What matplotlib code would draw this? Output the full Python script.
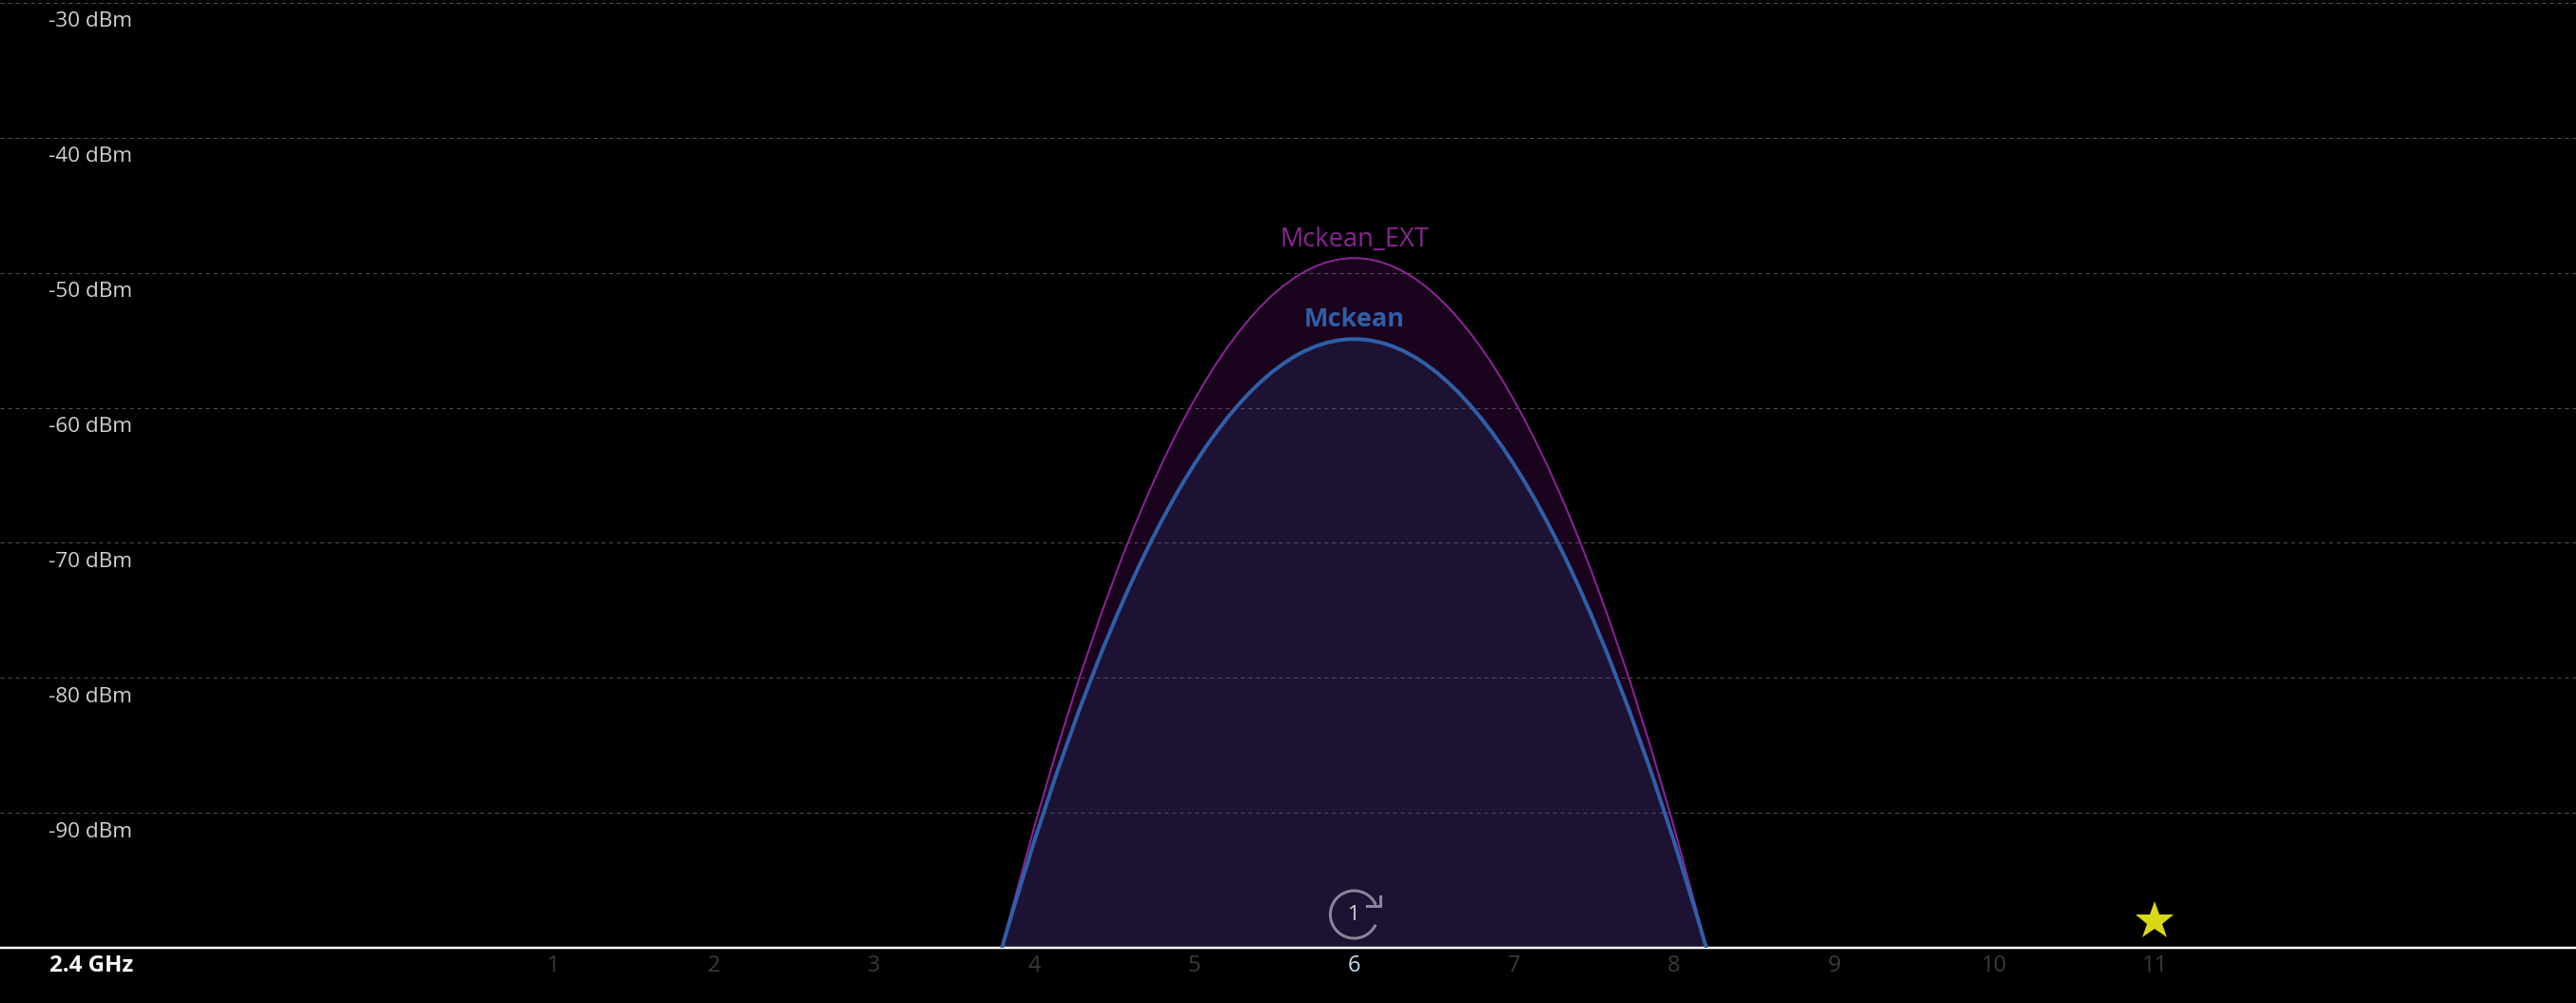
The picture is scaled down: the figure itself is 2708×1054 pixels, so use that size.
"""
python plot.py  ->  out.png
Wi-Fi analyzer, 2.4 GHz channel view.
"""
import matplotlib
matplotlib.use("Agg")
import matplotlib.pyplot as plt
from matplotlib.patches import Arc, PathPatch
from matplotlib.path import Path
from matplotlib.transforms import Affine2D

# ---- data
channels = [1, 2, 3, 4, 5, 6, 7, 8, 9, 10, 11]
levels = [-30, -40, -50, -60, -70, -80, -90]
floor_dbm = -100

network_names = ["Mckean_EXT", "Mckean"]
network_edge_low = [3.8, 3.8]
network_centre = [6, 6]
network_edge_high = [8.2, 8.2]
network_peak = [-48.9, -54.9]

active_channel = 6
network_count = 1
best_channel = 11
best_marker_dbm = -98.0

# ---- style
W, H, DPI = 2708, 1054, 100
BG = "#000000"
PX = 72 / DPI  # one pixel, in points
FONT = "Open Sans"
GRID_COL = "#555555"
NET_COLS = ["#8a2596", "#2f5fa8"]
NET_FILL = [("#85108f", 0.2), ("#2f5fa8", 0.17)]
NET_LW = [2 * PX, 4 * PX]
ICON_COL = "#8c8498"

plt.rcParams["font.family"] = [FONT, "DejaVu Sans"]

fig = plt.figure(figsize=(W / DPI, H / DPI), dpi=DPI, facecolor=BG)
base_px = 996
ax = fig.add_axes([0, (H - base_px) / H, 1, base_px / H], facecolor=BG)
ax.set_xlim(6 - 1423.5 / 168.3, 6 + (W - 1423.5) / 168.3)
ax.set_ylim(floor_dbm, -30 + 3 / 14.2)

for name, spine in ax.spines.items():
    spine.set_visible(name == "bottom")
ax.spines["bottom"].set_color("white")
ax.spines["bottom"].set_linewidth(2.5 * PX)

# ---- grid and axis labels
ax.set_yticks(levels)
ax.tick_params(axis="y", length=0, labelleft=False)
ax.grid(axis="y", color=GRID_COL, linewidth=1 * PX, linestyle=(0, (4, 4)))
ax.set_axisbelow(True)
for lv in levels:
    ax.annotate(f"{lv} dBm", xy=(0, lv), xycoords=ax.get_yaxis_transform(),
                xytext=(51, -20), textcoords="offset pixels",
                color="#d0d0d0", fontsize=16.2, ha="left", va="center")

ax.set_xticks(channels)
ax.set_xticklabels([str(c) for c in channels], fontsize=17)
ax.tick_params(axis="x", length=0, pad=5)
for c, lab in zip(channels, ax.get_xticklabels()):
    lab.set_color("#bfe0f0" if c == active_channel else "#3a3a3a")

ax.annotate("2.4 GHz", xy=(0, floor_dbm), xycoords=ax.get_yaxis_transform(),
            xytext=(52, -19), textcoords="offset pixels",
            color="white", fontsize=17.4, fontweight="bold", ha="left", va="center")


# ---- networks: one quadratic hump per network, read from edges and peak
def hump(low, centre, high, peak):
    ctrl = 2 * peak - floor_dbm  # curve passes through peak halfway along
    return [(low, floor_dbm), (centre, ctrl), (high, floor_dbm)]


for i, name in enumerate(network_names):
    p0, p1, p2 = hump(network_edge_low[i], network_centre[i],
                      network_edge_high[i], network_peak[i])
    fill_col, fill_alpha = NET_FILL[i]
    ax.add_patch(PathPatch(Path([p0, p1, p2, p0],
                                [Path.MOVETO, Path.CURVE3, Path.CURVE3, Path.CLOSEPOLY]),
                           facecolor=fill_col, alpha=fill_alpha, edgecolor="none", zorder=2))
    ax.add_patch(PathPatch(Path([p0, p1, p2], [Path.MOVETO, Path.CURVE3, Path.CURVE3]),
                           facecolor="none", edgecolor=NET_COLS[i], linewidth=NET_LW[i], zorder=3))

ax.annotate(network_names[0], xy=(network_centre[0], network_peak[0]),
            xytext=(0, 19), textcoords="offset pixels", color=NET_COLS[0],
            fontsize=19.6, ha="center", va="center", zorder=4)
ax.annotate(network_names[1], xy=(network_centre[1], network_peak[1]),
            xytext=(0, 20), textcoords="offset pixels", color=NET_COLS[1],
            fontsize=19.5, fontweight="bold", ha="center", va="center", zorder=4)

# ---- refresh badge on the active channel (pixel offsets from the baseline)
ox, oy = ax.transData.transform((active_channel, floor_dbm))
icon = Affine2D().translate(ox, oy)
ax.add_patch(Arc((0, 35), 50, 50, theta1=24, theta2=335, color=ICON_COL,
                 lw=3 * PX, transform=icon, zorder=5))
ax.plot([13, 27, 27], [44, 44, 54], color=ICON_COL, lw=3 * PX,
        transform=icon, zorder=5, solid_joinstyle="miter")
ax.annotate(str(network_count), xy=(active_channel, floor_dbm),
            xytext=(0, 35), textcoords="offset pixels", color="#d4d4d4",
            fontsize=16, ha="center", va="center", zorder=6)

# ---- best channel star
ax.plot([best_channel], [best_marker_dbm], marker="*", color="#d8d818",
        markersize=43 * PX, markeredgewidth=0, zorder=5)

fig.savefig("out.png", dpi=DPI, facecolor=BG)
